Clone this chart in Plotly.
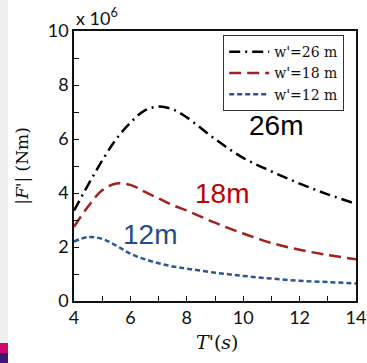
import plotly.graph_objects as go

T = [4, 4.5, 5, 5.5, 6, 6.5, 7, 7.5, 8, 9, 10, 11, 12, 13, 14]
F26 = [3.35, 4.3, 5.2, 6.0, 6.6, 7.05, 7.2, 7.1, 6.8, 6.0, 5.3, 4.8, 4.35, 3.95, 3.6]
F18 = [2.75, 3.5, 4.1, 4.35, 4.3, 4.05, 3.8, 3.55, 3.35, 2.9, 2.5, 2.15, 1.9, 1.7, 1.55]
F12 = [2.2, 2.37, 2.3, 2.05, 1.75, 1.55, 1.4, 1.28, 1.2, 1.05, 0.93, 0.83, 0.75, 0.7, 0.65]
names = ["w'=26 m", "w'=18 m", "w'=12 m"]
labels = ["26m", "18m", "12m"]
x_ticks = [4, 6, 8, 10, 12, 14]
y_ticks = [0, 2, 4, 6, 8, 10]

W, H = 367, 363
L, R, TOP, B = 74, 11, 31, 62
pw = W - L - R
ph = H - TOP - B

serif = "DejaVu Serif"
sans = "Lato"
fig = go.Figure()
fig.add_trace(go.Scatter(x=T, y=F26, mode="lines", name=names[0],
                         line=dict(color="#000000", width=2.5, dash="11px,5px,2px,5px", shape="spline")))
fig.add_trace(go.Scatter(x=T, y=F18, mode="lines", name=names[1],
                         line=dict(color="#a3201f", width=2.5, dash="12px,6px", shape="spline")))
fig.add_trace(go.Scatter(x=T, y=F12, mode="lines", name=names[2],
                         line=dict(color="#2b5597", width=2.5, dash="5px,3px", shape="spline")))

axis_common = dict(showgrid=False, zeroline=False, showline=True, linecolor="#111", linewidth=1.5,
                   mirror=True, ticks="inside", ticklen=5, tickwidth=1.2, tickcolor="#111",
                   automargin=False,
                   tickfont=dict(family=sans, size=18, color="#111"))
fig.update_xaxes(range=[4, 14], tickvals=x_ticks,
                 minor=dict(tickvals=[5, 7, 9, 11, 13], ticks="inside", ticklen=5, tickcolor="#111"),
                 **axis_common)
fig.update_yaxes(range=[0, 10], tickvals=y_ticks,
                 minor=dict(tickvals=[1, 3, 5, 7, 9], ticks="inside", ticklen=5, tickcolor="#111"),
                 title=dict(text="|<i>F</i>'| (Nm)", font=dict(family=serif, size=17, color="#111")),
                 **axis_common)

fig.add_annotation(x=(217 - L) / pw, y=-(342 - 301) / ph, xref="paper", yref="paper",
                   xanchor="center", yanchor="middle", showarrow=False,
                   text="<i>T</i>'(<i>s</i>)", font=dict(family=serif, size=19, color="#111"))
fig.add_annotation(x=0, y=1, xref="paper", yref="paper", xanchor="left", yanchor="bottom",
                   text="x 10<sup>6</sup>", showarrow=False, font=dict(family=sans, size=18, color="#111"))
fig.add_annotation(x=11.15, y=6.5, text=labels[0], showarrow=False,
                   font=dict(family="Liberation Sans", size=28, color="#000000"))
fig.add_annotation(x=9.25, y=4.0, text=labels[1], showarrow=False,
                   font=dict(family="Liberation Sans", size=28, color="#c00000"))
fig.add_annotation(x=6.7, y=2.45, text=labels[2], showarrow=False,
                   font=dict(family="Liberation Sans", size=28, color="#1f4e8c"))

# slide background decorations
fig.add_shape(type="rect", xref="paper", yref="paper", x0=-L / pw, x1=(8 - L) / pw,
              y0=-(B - 20) / ph, y1=(ph + TOP) / ph,
              fillcolor="#efefef", line=dict(width=0), layer="below")
fig.add_shape(type="rect", xref="paper", yref="paper", x0=-L / pw, x1=(8 - L) / pw,
              y0=-(B - 10) / ph, y1=-(B - 20) / ph, fillcolor="#d1066f", line=dict(width=0))
fig.add_shape(type="rect", xref="paper", yref="paper", x0=-L / pw, x1=(8 - L) / pw,
              y0=-B / ph, y1=-(B - 10) / ph, fillcolor="#3a1878", line=dict(width=0))

fig.update_layout(width=W, height=H, margin=dict(l=L, r=R, t=TOP, b=B, autoexpand=False),
                  paper_bgcolor="white", plot_bgcolor="white",
                  legend=dict(x=(344 - L) / pw, y=1 - (35 - TOP) / ph, xanchor="right", yanchor="top",
                              bordercolor="#333", borderwidth=1.2, bgcolor="white",
                              font=dict(family=serif, size=14, color="#111"),
                              tracegroupgap=0, itemwidth=40),
                  showlegend=True)
fig.write_html("out.html", config={"displayModeBar": False},
               post_script="document.body.style.margin='0';document.body.style.overflow='hidden';")
